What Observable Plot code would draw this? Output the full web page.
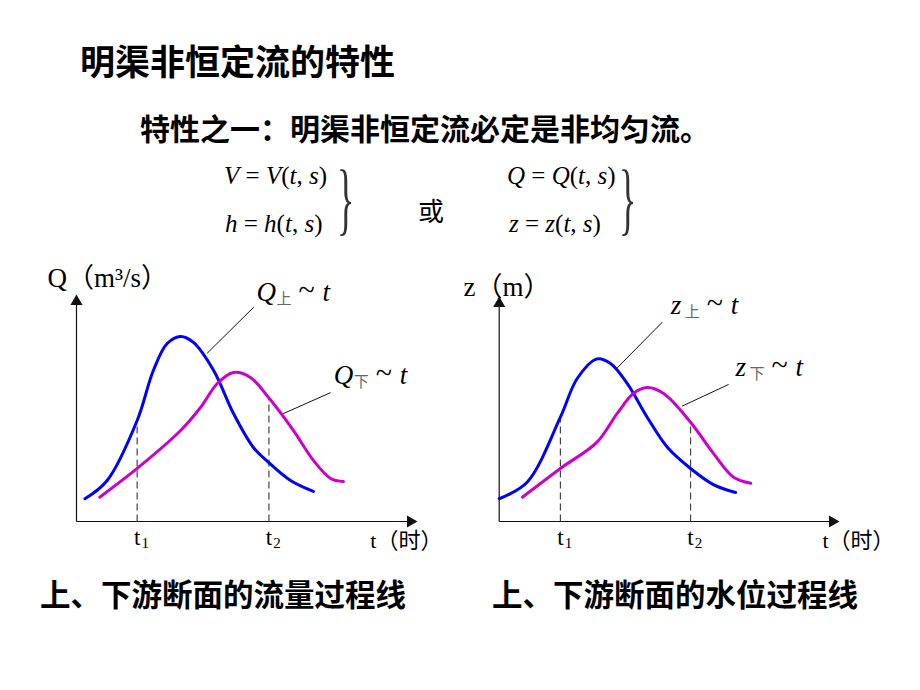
<!DOCTYPE html>
<html>
<head>
<meta charset="utf-8">
<script src="https://cdn.jsdelivr.net/npm/d3@7"></script>
<script src="https://cdn.jsdelivr.net/npm/@observablehq/plot@0.6"></script>
<style>
  html, body { margin: 0; padding: 0; background: #fff; }
  #page { position: relative; width: 920px; height: 690px; overflow: hidden; background: #fff; }
  .t { position: absolute; white-space: nowrap; line-height: 1; color: #000; }
  .cjk { font-family: "Noto Sans CJK SC", sans-serif; font-weight: 600; }
  .math { font-family: "Liberation Serif", "Times New Roman", serif; font-size: 25px; }
  .math i { font-style: italic; }
  .brace { font-family: "Liberation Serif", serif; font-size: 80px; transform-origin: left top; transform: scaleX(0.45); color: #333; }
  .plot { position: absolute; }
</style>
</head>
<body>
<div id="page">
  <div class="t cjk" style="left:80px; top:42px; font-size:35px;">明渠非恒定流的特性</div>
  <div class="t cjk" style="left:140px; top:112px; font-size:30px;">特性之一：明渠非恒定流必定是非均匀流。</div>

  <div class="t math" style="left:224px; top:163px;"><i>V</i> = <i>V</i>(<i>t</i>, <i>s</i>)</div>
  <div class="t math" style="left:225px; top:211px;"><i>h</i> = <i>h</i>(<i>t</i>, <i>s</i>)</div>
  <div class="t brace" style="left:337px; top:158px;">}</div>
  <div class="t cjk" style="left:418px; top:197px; font-size:26px; font-weight:400;">或</div>
  <div class="t math" style="left:507px; top:163px;"><i>Q</i> = <i>Q</i>(<i>t</i>, <i>s</i>)</div>
  <div class="t math" style="left:509px; top:211px;"><i>z</i> = <i>z</i>(<i>t</i>, <i>s</i>)</div>
  <div class="t brace" style="left:619px; top:158px;">}</div>

  <div class="t cjk" style="left:40px; top:578px; font-size:30.5px;">上、下游断面的流量过程线</div>
  <div class="t cjk" style="left:492px; top:578px; font-size:30.5px;">上、下游断面的水位过程线</div>
</div>
<script>
// ---- data (t in arbitrary time units 0..10, values in arbitrary units 0..10) ----
const qUpT = [0.25, 0.91, 1.80, 2.28, 2.69, 3.09, 3.47, 4.07, 4.66, 5.25, 5.70, 6.35, 7.03];
const qUpV = [1.02, 1.84, 4.53, 6.77, 7.98, 8.30, 8.03, 6.77, 4.84, 3.32, 2.65, 1.84, 1.35];
const qDnT = [0.69, 1.80, 3.09, 3.68, 4.18, 4.66, 5.16, 5.70, 6.44, 7.03, 7.54, 7.92];
const qDnV = [1.09, 2.38, 4.08, 5.11, 6.19, 6.68, 6.46, 5.56, 4.08, 2.74, 1.93, 1.79];
const zUpT = [0.00, 0.83, 1.82, 2.32, 2.91, 3.31, 3.81, 4.40, 5.00, 5.69, 6.37, 7.03];
const zUpV = [1.03, 1.78, 4.72, 6.47, 7.36, 7.15, 6.24, 4.72, 3.36, 2.40, 1.67, 1.31];
const zDnT = [0.69, 1.82, 2.91, 3.51, 3.99, 4.40, 4.89, 5.69, 6.37, 6.97, 7.48];
const zDnV = [1.10, 2.40, 3.59, 4.89, 5.79, 6.06, 5.79, 4.49, 3.08, 2.00, 1.73];

const tickNames = ["t", "t"];
const tickSubs = ["1", "2"];
const qTickT = [1.80, 5.71];
const qTickV = [4.53, 5.56];   // height of dashed line (curve value at t1, t2)
const zTickT = [1.82, 5.69];
const zTickV = [4.72, 4.49];

const qLabelX = [5.34, 7.63], qLabelY = [10.27, 6.55];
const zLabelX = [5.10, 7.03], zLabelY = [9.77, 6.97];
const labelSubs = ["上", "下"];
const qLeaderFrom = [[3.88, 7.55], [6.14, 4.84]], qLeaderTo = [[5.26, 9.61], [7.54, 5.78]];
const zLeaderFrom = [[3.51, 6.95], [5.44, 5.22]], zLeaderTo = [[4.85, 9.02], [6.82, 6.20]];

const BLUE = "#0000ff", MAGENTA = "#cc00cc";
const SERIF = "Liberation Serif, Times New Roman, serif";
const CJK = "Noto Sans CJK SC, sans-serif";
const zip = (T, V) => T.map((t, i) => ({t, v: V[i]}));

function chart(o) {
  const ticks = o.tickT.map((t, i) => ({t, v: o.tickV[i], name: tickNames[i], sub: tickSubs[i]}));
  const labels = o.labelX.map((x, i) => ({x, y: o.labelY[i], sub: labelSubs[i]}));
  const leaders = o.from.map((f, i) => ({x1: f[0], y1: f[1], x2: o.to[i][0], y2: o.to[i][1]}));
  const axes = [{x1: 0, y1: 0, x2: 10, y2: 0}, {x1: 0, y1: 0, x2: 0, y2: 10}];
  return Plot.plot({
    width: 460, height: 300,
    marginLeft: o.ml, marginRight: o.mr, marginTop: o.mt, marginBottom: 39,
    x: {domain: [0, 10], axis: null},
    y: {domain: [0, 10], axis: null},
    style: {background: "transparent", overflow: "visible"},
    marks: [
      Plot.link(axes, {x1: "x1", y1: "y1", x2: "x2", y2: "y2", stroke: "#111", strokeWidth: 1.2}),
      Plot.dot([{x: 10, y: 0}], {x: "x", y: "y", symbol: "triangle", r: 4.5, fill: "#111", stroke: "none", rotate: 90, dx: -3}),
      Plot.dot([{x: 0, y: 10}], {x: "x", y: "y", symbol: "triangle", r: 4.5, fill: "#111", stroke: "none", rotate: 0, dy: 3}),
      Plot.link(ticks, {x1: "t", x2: "t", y1: () => 0, y2: "v", stroke: "#444", strokeWidth: 1.2, strokeDasharray: "7,4"}),
      Plot.line(zip(o.upT, o.upV), {x: "t", y: "v", stroke: BLUE, strokeWidth: 3, curve: "catmull-rom"}),
      Plot.line(zip(o.dnT, o.dnV), {x: "t", y: "v", stroke: MAGENTA, strokeWidth: 3, curve: "catmull-rom"}),
      Plot.link(leaders, {x1: "x1", y1: "y1", x2: "x2", y2: "y2", stroke: "#111", strokeWidth: 1}),
      // tick labels t1, t2
      Plot.text(ticks, {x: "t", y: () => 0, text: "name", dy: 16, fontFamily: SERIF, fontSize: 23, fill: "#000"}),
      Plot.text(ticks, {x: "t", y: () => 0, text: "sub", dx: 8, dy: 22, fontFamily: SERIF, fontSize: 15, fill: "#000"}),
      // x axis title
      Plot.text([o.xTitle], {x: () => o.xTitleX, y: () => 0, text: d => d, dy: 19, textAnchor: "start", fontFamily: SERIF + ", " + CJK, fontSize: 22, fill: "#000"}),
      // y axis title
      Plot.text([o.yTitle], {x: () => o.yTitleX, y: () => o.yTitleY, text: d => d, textAnchor: "start", fontFamily: SERIF + ", " + CJK, fontSize: 27, fill: "#000"}),
      // curve labels
      Plot.text(labels, {x: "x", y: "y", text: () => o.sym, textAnchor: "start", fontFamily: SERIF, fontStyle: "italic", fontSize: 27, fill: "#000"}),
      Plot.text(labels, {x: "x", y: "y", text: "sub", textAnchor: "start", dx: o.subDx, dy: 7, fontFamily: CJK, fontSize: 15, fill: "#666"}),
      Plot.text(labels, {x: "x", y: "y", text: () => "~", textAnchor: "start", dx: o.tailDx, dy: -2, fontFamily: SERIF, fontSize: 30, fill: "#000"}),
      Plot.text(labels, {x: "x", y: "y", text: () => "t", textAnchor: "start", dx: o.tailDx + 24, fontFamily: SERIF, fontStyle: "italic", fontSize: 27, fill: "#000"})
    ]
  });
}

const left = chart({
  ml: 76, mr: 47, mt: 38,
  upT: qUpT, upV: qUpV, dnT: qDnT, dnV: qDnV,
  tickT: qTickT, tickV: qTickV,
  labelX: qLabelX, labelY: qLabelY, from: qLeaderFrom, to: qLeaderTo,
  sym: "Q", subDx: 20, tailDx: 42,
  xTitle: "t（时）", xTitleX: 8.72,
  yTitle: "Q（m³/s）", yTitleX: -0.86, yTitleY: 10.9
});
left.classList.add("plot");
left.style.left = "0px"; left.style.top = "260px";

const right = chart({
  ml: 38.7, mr: 85, mt: 40,
  upT: zUpT, upV: zUpV, dnT: zDnT, dnV: zDnV,
  tickT: zTickT, tickV: zTickV,
  labelX: zLabelX, labelY: zLabelY, from: zLeaderFrom, to: zLeaderTo,
  sym: "z", subDx: 14, tailDx: 36,
  xTitle: "t（时）", xTitleX: 9.61,
  yTitle: "z（m）", yTitleX: -1.06, yTitleY: 10.59
});
right.classList.add("plot");
right.style.left = "460px"; right.style.top = "260px";

const page = document.getElementById("page");
page.appendChild(left);
page.appendChild(right);
</script>
</body>
</html>
